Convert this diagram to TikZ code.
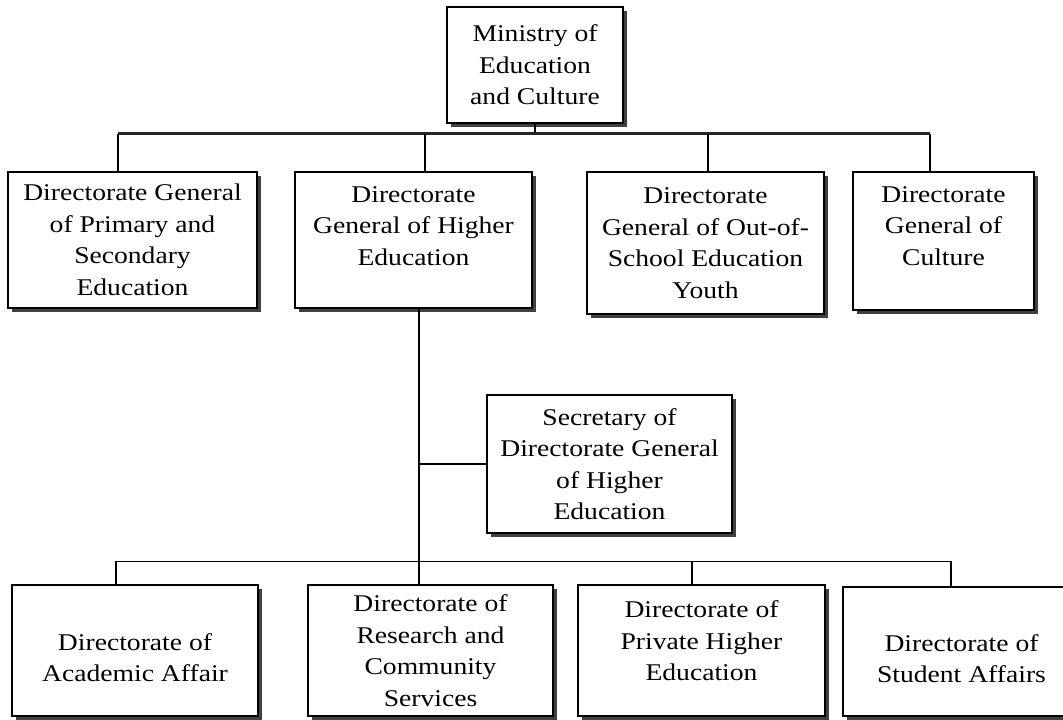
\documentclass[tikz,border=0pt]{standalone}
\usepackage{fontspec}
\setmainfont{Liberation Serif}[FakeStretch=1.15]
\usetikzlibrary{calc,shadows}

\tikzset{
  orgbox/.style={draw, line width=1.3pt, fill=white, align=center, inner sep=0pt,
    drop shadow={shadow xshift=4pt, shadow yshift=-4pt, fill=black!75, opacity=1}},
  link/.style={line width=1.3pt},
  mainlink/.style={line width=3pt, black!85}
}

\begin{document}
\begin{tikzpicture}[x=1pt, y=-1pt, font=\fontsize{24}{31.5}\selectfont]

  % 画布大小(与原图一致)
  \useasboundingbox (0,0) rectangle (1063,720);

  % 顶层:教育文化部
  \node[orgbox, minimum width=176, minimum height=116] (min) at (535,65)
    {Ministry of\\Education\\and Culture};

  % 第一层:四个总司
  \node[orgbox, minimum width=249, minimum height=136] (dgprim) at (132.5,240)
    {Directorate General\\of Primary and\\Secondary\\Education};
  \node[orgbox, minimum width=237, minimum height=136] (dghigh) at (413.5,240)
    {Directorate\\General of Higher\\Education\\[-3.5pt]};
  \node[orgbox, minimum width=237, minimum height=142] (dgout) at (705.5,243)
    {Directorate\\General of Out-of-\\School Education\\Youth};
  \node[orgbox, minimum width=181, minimum height=138] (dgcult) at (943.5,241)
    {Directorate\\General of\\Culture\\[-1.5pt]};

  % 秘书处
  \node[orgbox, minimum width=245, minimum height=138] (sec) at (609.5,464)
    {Secretary of\\Directorate General\\of Higher\\Education};

  % 第二层:四个司
  \node[orgbox, minimum width=246, minimum height=131] (dacad) at (135,650.5)
    {\\[0pt]Directorate of\\Academic Affair};
  \node[orgbox, minimum width=245, minimum height=131] (dres) at (430.5,650.5)
    {Directorate of\\Research and\\Community\\Services};
  \node[orgbox, minimum width=247, minimum height=131] (dpriv) at (701.5,650.5)
    {Directorate of\\Private Higher\\Education\\[-12.5pt]};
  \node[orgbox, minimum width=237, minimum height=129] (dstud) at (961.5,651.5)
    {\\[0pt]Directorate of\\Student Affairs};

  % 连线的折点
  \coordinate (bus1) at ($(min.south)+(0,10)$);
  \coordinate (tprim) at ($(dgprim.north)+(-14.5,0)$);
  \coordinate (thigh) at ($(dghigh.north)+(11.5,0)$);
  \coordinate (tout)  at ($(dgout.north)+(2.5,0)$);
  \coordinate (tcult) at ($(dgcult.north)+(-13.5,0)$);
  \coordinate (spine) at ($(dghigh.south)+(5.5,0)$);
  \coordinate (bus2) at ($(dres.north)+(0,-23)$);
  \coordinate (tacad) at ($(dacad.north)+(-19,0)$);
  \coordinate (tpriv) at ($(dpriv.north)+(-9.5,0)$);
  \coordinate (tstud) at ($(dstud.north)+(-10.5,0)$);

  % 上层连线
  \draw[link] (min.south) -- (min.south |- bus1);
  \draw[mainlink] (tprim |- bus1) -- (tcult |- bus1);
  \foreach \t in {tprim,thigh,tout,tcult}
    \draw[link] (\t |- bus1) -- (\t);

  % 主干与秘书处
  \draw[link] (spine) -- (spine |- dres.north);
  \draw[link] (spine |- sec.west) -- (sec.west);

  % 下层连线
  \draw[link] (tacad |- bus2) -- (tstud |- bus2);
  \foreach \t in {tacad,tpriv,tstud}
    \draw[link] (\t |- bus2) -- (\t);

\end{tikzpicture}
\end{document}
